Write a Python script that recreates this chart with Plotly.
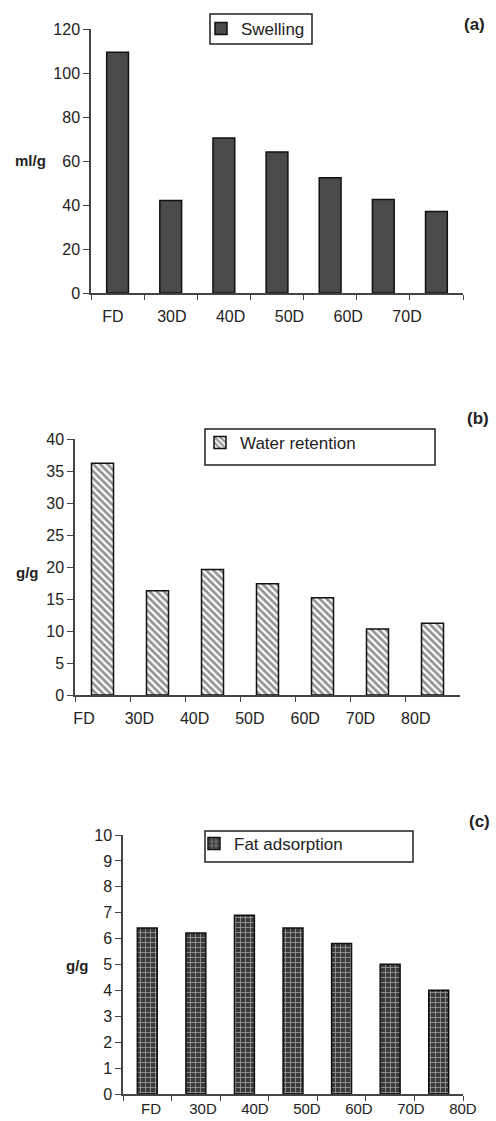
import plotly.graph_objects as go

# ---------------- data ----------------
categories = ["FD", "30D", "40D", "50D", "60D", "70D", "80D"]
swelling = [109.4, 42.1, 70.5, 64.1, 52.4, 42.5, 37.1]
water_retention = [36.2, 16.3, 19.6, 17.4, 15.2, 10.3, 11.2]
fat_adsorption = [6.41, 6.22, 6.90, 6.41, 5.81, 5.01, 4.01]

labels_a = ["FD", "30D", "40D", "50D", "60D", "70D"]
labels_b = ["FD", "30D", "40D", "50D", "60D", "70D", "80D"]
labels_c = ["FD", "30D", "40D", "50D", "60D", "70D", "80D"]

ticks_a = [0, 20, 40, 60, 80, 100, 120]
ticks_b = [0, 5, 10, 15, 20, 25, 30, 35, 40]
ticks_c = [0, 1, 2, 3, 4, 5, 6, 7, 8, 9, 10]

# ---------------- layout helpers ----------------
W, H = 496, 1121
FONT = "Liberation Sans, Arial, sans-serif"
TXT = "#222222"
AXC = "#444444"


def px_x(p):
    return p / W


def px_y(p):
    return 1 - p / H


fig = go.Figure()

fig.add_trace(go.Bar(
    x=categories, y=swelling, name="Swelling", xaxis="x", yaxis="y",
    width=0.41, legend="legend",
    marker=dict(color="#4a4a4a", line=dict(color="#111111", width=1.5)),
))
fig.add_trace(go.Bar(
    x=categories, y=water_retention, name="Water retention", xaxis="x2", yaxis="y2",
    width=0.40, legend="legend2",
    marker=dict(color="white", line=dict(color="#111111", width=1.5),
                pattern=dict(shape="\\", fgcolor="#2a2a2a", bgcolor="white",
                             size=5, solidity=0.55)),
))
fig.add_trace(go.Bar(
    x=categories, y=fat_adsorption, name="Fat adsorption", xaxis="x3", yaxis="y3",
    width=0.41, legend="legend3",
    marker=dict(color="#3a3a3a", line=dict(color="#111111", width=1.5),
                pattern=dict(shape="+", fgcolor="white", bgcolor="#3a3a3a",
                             size=5, solidity=0.3)),
))

# invisible carrier traces so the caption axes get drawn
for ax_x, ax_y, labs in [("x4", "y", labels_a), ("x5", "y2", labels_b), ("x6", "y3", labels_c)]:
    fig.add_trace(go.Scatter(
        x=list(range(len(labs))), y=[None] * len(labs), xaxis=ax_x, yaxis=ax_y,
        mode="markers", showlegend=False, hoverinfo="skip",
    ))

# panel geometry in pixels: (x_left, x_right, y_top, y_bottom)
panels = {
    "a": (91, 463, 29, 293),
    "b": (75, 460, 439, 695),
    "c": (123, 463, 835, 1094),
}
yranges = {"a": [0, 120], "b": [0, 40], "c": [0, 10]}
yticks = {"a": ticks_a, "b": ticks_b, "c": ticks_c}
# ranges / offsets of the caption axes (placement of the category captions)
label_ranges = {"a": [-0.374, 5.952], "b": [-0.163, 6.80], "c": [-0.538, 6.002]}
label_len = {"a": 9, "b": 9, "c": 1}
label_size = {"a": 16, "b": 16, "c": 15}
label_lists = {"a": labels_a, "b": labels_b, "c": labels_c}

layout = dict(
    width=W, height=H,
    margin=dict(l=0, r=0, t=0, b=0, autoexpand=False),
    paper_bgcolor="white", plot_bgcolor="white",
    font=dict(family=FONT, size=15, color=TXT),
    showlegend=True,
)

for i, key in enumerate(["a", "b", "c"]):
    n = "" if i == 0 else str(i + 1)
    xl, xr, yt, yb = panels[key]
    dom_x = [px_x(xl), px_x(xr)]
    dom_y = [px_y(yb), px_y(yt)]
    layout["xaxis" + n] = dict(
        domain=dom_x, anchor="y" + n, type="category",
        categoryorder="array", categoryarray=categories,
        range=[-0.5, len(categories) - 0.5],
        showline=True, linecolor=AXC, linewidth=1.5,
        ticks="outside", tickson="boundaries", ticklen=5, tickcolor=AXC, tickwidth=1,
        showticklabels=False, showgrid=False, zeroline=False, fixedrange=True,
        automargin=False,
    )
    layout["yaxis" + n] = dict(
        domain=dom_y, anchor="x" + n, range=yranges[key],
        tickmode="array", tickvals=yticks[key],
        showline=True, linecolor=AXC, linewidth=1.5,
        ticks="outside", ticklen=6, tickcolor=AXC, tickwidth=1,
        tickfont=dict(size=16, color=TXT),
        showgrid=False, zeroline=False, fixedrange=True, automargin=False,
    )
    ln = str(i + 4)
    labs = label_lists[key]
    layout["xaxis" + ln] = dict(
        domain=dom_x, anchor="y" + n, overlaying="x" + n, side="bottom",
        type="linear", range=label_ranges[key],
        tickmode="array", tickvals=list(range(len(labs))), ticktext=labs,
        ticks="outside", ticklen=label_len[key], tickcolor="rgba(0,0,0,0)",
        showline=False, showgrid=False, zeroline=False,
        tickfont=dict(size=label_size[key], color=TXT), fixedrange=True,
        automargin=False,
    )

leg_specs = [
    ("legend", 223, 29),
    ("legend2", 222, 443),
    ("legend3", 216, 844),
]
for name, icx, icy in leg_specs:
    layout[name] = dict(
        x=px_x(icx - 22), y=px_y(icy), xanchor="left", yanchor="middle",
        bgcolor="rgba(0,0,0,0)", borderwidth=0,
        font=dict(family=FONT, size=17, color=TXT),
        itemclick=False, itemdoubleclick=False,
    )

frames = [(210, 14, 312, 44), (205, 429, 435, 465), (205, 831, 413, 862)]
shapes = []
for x0, y0, x1, y1 in frames:
    shapes.append(dict(type="rect", xref="paper", yref="paper",
                       x0=px_x(x0), x1=px_x(x1), y0=px_y(y1), y1=px_y(y0),
                       line=dict(color="#222222", width=1.5), fillcolor="rgba(0,0,0,0)"))
layout["shapes"] = shapes

annotations = []
for text, cx, cy in [("(a)", 474, 25), ("(b)", 478, 418), ("(c)", 479, 821)]:
    annotations.append(dict(text="<b>%s</b>" % text, x=px_x(cx), y=px_y(cy),
                            xref="paper", yref="paper", showarrow=False,
                            xanchor="center", yanchor="middle",
                            font=dict(family=FONT, size=17, color=TXT)))
for text, cx, cy in [("ml/g", 30, 161), ("g/g", 27, 572), ("g/g", 77, 965)]:
    annotations.append(dict(text="<b>%s</b>" % text, x=px_x(cx), y=px_y(cy),
                            xref="paper", yref="paper", showarrow=False,
                            xanchor="center", yanchor="middle",
                            font=dict(family=FONT, size=15, color=TXT)))
layout["annotations"] = annotations

fig.update_layout(**layout)
fig.write_html(
    "out.html",
    config={"displayModeBar": False},
    post_script="document.body.style.margin='0';document.body.style.overflow='hidden';",
)
